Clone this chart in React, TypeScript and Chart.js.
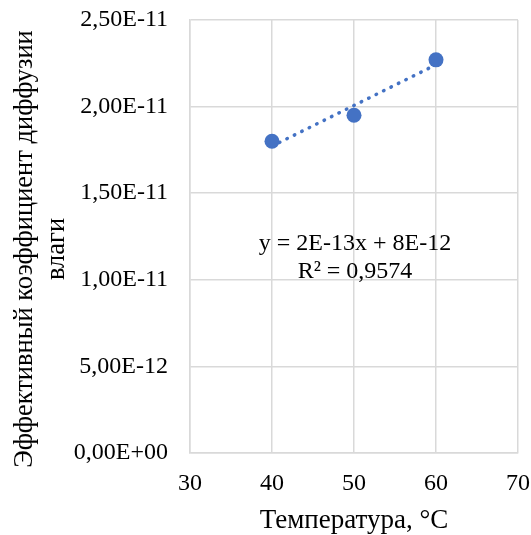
import React, { useEffect, useRef } from "react";
import { Chart, registerables } from "chart.js";

Chart.register(...registerables);

const temperatures = [40, 50, 60];
const diffusivity = [1.8e-11, 1.95e-11, 2.27e-11];
const xMin = 30;
const xMax = 70;
const xStep = 10;
const yMin = 0;
const yMax = 2.5e-11;
const yStep = 5e-12;
const yTitleLines = ["Эффективный коэффициент диффузии", "влаги"];
const xTitle = "Температура, °C";
const equationLines = ["y = 2E-13x + 8E-12", "R² = 0,9574"];

const SERIES_COLOR = "#4472C4";
const GRID_COLOR = "#D9D9D9";
const FONT = "'Liberation Serif', 'Times New Roman', serif";

function fitLine(xs: number[], ys: number[]) {
  const n = xs.length;
  const mx = xs.reduce((a, b) => a + b, 0) / n;
  const my = ys.reduce((a, b) => a + b, 0) / n;
  let sxy = 0;
  let sxx = 0;
  for (let i = 0; i < n; i++) {
    sxy += (xs[i] - mx) * (ys[i] - my);
    sxx += (xs[i] - mx) * (xs[i] - mx);
  }
  const slope = sxy / sxx;
  return { slope, intercept: my - slope * mx };
}

function formatSci(v: number) {
  if (Math.abs(v) < 1e-30) return "0,00E+00";
  const s = v.toExponential(2);
  const [mant, exp] = s.split("e");
  const sign = exp[0] === "-" ? "-" : "+";
  const digits = exp.replace(/[+-]/, "").padStart(2, "0");
  return mant.replace(".", ",") + "E" + sign + digits;
}

const textPlugin = {
  id: "customText",
  afterDraw(chart: any) {
    const ctx = chart.ctx;
    const area = chart.chartArea;
    ctx.save();
    ctx.fillStyle = "#000000";
    ctx.font = `26.5px ${FONT}`;
    ctx.textAlign = "center";
    ctx.textBaseline = "alphabetic";
    const yCenter = 249;
    const baseXs = [32, 64];
    yTitleLines.forEach((line, i) => {
      ctx.save();
      ctx.translate(baseXs[i], yCenter);
      ctx.rotate(-Math.PI / 2);
      ctx.fillText(line, 0, 0);
      ctx.restore();
    });
    ctx.font = `27px ${FONT}`;
    const cx = (area.left + area.right) / 2;
    ctx.fillText(xTitle, cx, 528);
    ctx.font = `24px ${FONT}`;
    ctx.fillText(equationLines[0], 355, 250);
    ctx.fillText(equationLines[1], 355, 278);
    ctx.restore();
  },
};

export default function App() {
  const canvasRef = useRef<HTMLCanvasElement | null>(null);

  useEffect(() => {
    document.body.style.margin = "0";
    const canvas = canvasRef.current;
    if (!canvas) return;
    const { slope, intercept } = fitLine(temperatures, diffusivity);
    const x0 = Math.min(...temperatures);
    const x1 = Math.max(...temperatures);
    const trend = [
      { x: x0, y: slope * x0 + intercept },
      { x: x1, y: slope * x1 + intercept },
    ];
    const points = temperatures.map((t, i) => ({ x: t, y: diffusivity[i] }));

    const chart = new Chart(canvas, {
      type: "scatter",
      data: {
        datasets: [
          {
            type: "scatter",
            data: points,
            backgroundColor: SERIES_COLOR,
            borderColor: SERIES_COLOR,
            pointRadius: 7.5,
            pointHoverRadius: 7.5,
            borderWidth: 0,
            order: 1,
          } as any,
          {
            type: "line",
            data: trend,
            borderColor: SERIES_COLOR,
            borderWidth: 3.5,
            borderDash: [0.5, 7.8],
            borderCapStyle: "round",
            pointRadius: 0,
            fill: false,
            showLine: true,
            order: 2,
          } as any,
        ],
      },
      options: {
        responsive: false,
        animation: false,
        events: [],
        layout: { padding: { left: 0, top: 20, right: 13, bottom: 0 } },
        plugins: {
          legend: { display: false },
          tooltip: { enabled: false },
          title: { display: false },
        },
        scales: {
          x: {
            type: "linear",
            min: xMin,
            max: xMax,
            ticks: {
              stepSize: xStep,
              padding: 16,
              color: "#000000",
              font: { family: FONT, size: 24 },
            },
            grid: { color: GRID_COLOR, lineWidth: 1.5, drawTicks: false },
            border: { color: GRID_COLOR, width: 1.5 },
            afterFit(scale: any) {
              scale.height = 82;
              scale.paddingLeft = 0;
              scale.paddingRight = 0;
            },
          },
          y: {
            type: "linear",
            min: yMin,
            max: yMax,
            ticks: {
              stepSize: yStep,
              padding: 22,
              color: "#000000",
              font: { family: FONT, size: 24 },
              callback: (v: any) => formatSci(Number(v)),
            },
            grid: { color: GRID_COLOR, lineWidth: 1.5, drawTicks: false },
            border: { color: GRID_COLOR, width: 1.5 },
            afterFit(scale: any) {
              scale.width = 190;
              scale.paddingTop = 0;
              scale.paddingBottom = 0;
            },
          },
        },
      } as any,
      plugins: [textPlugin],
    });
    return () => chart.destroy();
  }, []);

  return (
    <div style={{ position: "fixed", left: 0, top: 0, width: 531, height: 535, background: "#ffffff" }}>
      <canvas ref={canvasRef} width={531} height={535} style={{ display: "block" }} />
    </div>
  );
}
